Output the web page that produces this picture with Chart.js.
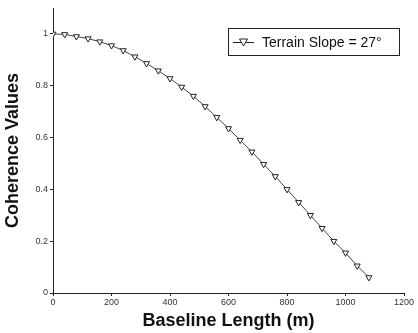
<!DOCTYPE html>
<html>
<head>
<meta charset="utf-8">
<script src="https://cdn.jsdelivr.net/npm/chart.js@4/dist/chart.umd.min.js"></script>
<style>
  html, body { margin: 0; padding: 0; background: #fff; }
  #wrap { width: 418px; height: 333px; }
</style>
</head>
<body>
<div id="wrap"><canvas id="c" width="418" height="333"></canvas></div>
<script>
// baseline length (m) and coherence
const baselines = [0, 40, 80, 120, 160, 200, 240, 280, 320, 360, 400, 440, 480, 520,
  560, 600, 640, 680, 720, 760, 800, 840, 880, 920, 960, 1000, 1040, 1080];
const coherence = [1.0, 0.998, 0.99, 0.982, 0.97, 0.955, 0.936, 0.912, 0.886, 0.858,
  0.828, 0.795, 0.76, 0.72, 0.678, 0.635, 0.59, 0.545, 0.497, 0.45, 0.40, 0.35,
  0.30, 0.25, 0.20, 0.155, 0.105, 0.06];
const xTicks = [0, 200, 400, 600, 800, 1000, 1200];
const yTicks = [0, 0.2, 0.4, 0.6, 0.8, 1];
const seriesLabel = 'Terrain Slope = 27\u00B0';

// legend box drawn inside the plot, top right
const boxLegend = {
  id: 'boxLegend',
  afterDraw(chart) {
    const ctx = chart.ctx;
    ctx.save();
    ctx.strokeStyle = '#222';
    ctx.lineWidth = 1;
    ctx.strokeRect(228.5, 28.5, 171, 27);
    ctx.beginPath();
    ctx.moveTo(233, 42.5);
    ctx.lineTo(254, 42.5);
    ctx.stroke();
    // open down triangle
    ctx.beginPath();
    ctx.moveTo(239.5, 39);
    ctx.lineTo(247.5, 39);
    ctx.lineTo(243.5, 46);
    ctx.closePath();
    ctx.fillStyle = '#fff';
    ctx.fill();
    ctx.stroke();
    ctx.fillStyle = '#111';
    ctx.font = '14px "Liberation Sans", Arial, sans-serif';
    ctx.textBaseline = 'middle';
    ctx.fillText(seriesLabel, 262, 43);
    ctx.restore();
  }
};

new Chart(document.getElementById('c'), {
  type: 'line',
  data: {
    datasets: [{
      label: seriesLabel,
      data: baselines.map((b, i) => ({ x: b, y: coherence[i] })),
      borderColor: '#444',
      borderWidth: 1,
      pointStyle: 'triangle',
      rotation: 180,
      pointRadius: 3.5,
      pointBackgroundColor: '#fff',
      pointBorderColor: '#222',
      pointBorderWidth: 1,
      tension: 0
    }]
  },
  options: {
    responsive: false,
    animation: false,
    layout: { padding: { left: 0, right: 14, top: 8, bottom: 0 } },
    plugins: { legend: { display: false }, tooltip: { enabled: false } },
    scales: {
      x: {
        type: 'linear',
        min: 0, max: 1200,
        afterBuildTicks: s => { s.ticks = xTicks.map(v => ({ value: v })); },
        afterFit: s => { s.height = 40; },
        grid: { display: true, drawOnChartArea: false, tickLength: 3, color: '#222' },
        border: { color: '#222', width: 1 },
        ticks: {
          color: '#333', padding: 1, maxRotation: 0,
          callback: v => String(v),
          font: { size: 9, family: '"Liberation Sans", Arial, sans-serif' }
        },
        title: {
          display: true, text: 'Baseline Length (m)', color: '#111',
          padding: { top: 0, bottom: 1 },
          font: { size: 18, weight: 'bold', family: '"Liberation Sans", Arial, sans-serif' }
        }
      },
      y: {
        min: 0, max: 1.1,
        afterBuildTicks: s => { s.ticks = yTicks.map(v => ({ value: v })); },
        afterFit: s => { s.width = 53; },
        grid: { display: true, drawOnChartArea: false, tickLength: 3, color: '#222' },
        border: { color: '#222', width: 1 },
        ticks: {
          color: '#333', padding: 2,
          callback: v => String(v),
          font: { size: 9, family: '"Liberation Sans", Arial, sans-serif' }
        },
        title: {
          display: true, text: 'Coherence Values', color: '#111',
          padding: { top: 2, bottom: 4 },
          font: { size: 18, weight: 'bold', family: '"Liberation Sans", Arial, sans-serif' }
        }
      }
    }
  },
  plugins: [boxLegend]
});
</script>
</body>
</html>
